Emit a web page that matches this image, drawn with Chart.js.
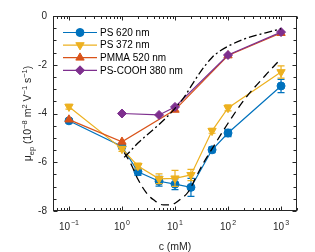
<!DOCTYPE html>
<html>
<head>
<meta charset="utf-8">
<script src="https://cdn.jsdelivr.net/npm/chart.js@4"></script>
<style>
  html, body { margin: 0; padding: 0; background: #fff; }
  #wrap { width: 315px; height: 252px; }
</style>
</head>
<body>
<div id="wrap"><canvas id="chart" width="315" height="252"></canvas></div>
<script>
// concentrations (mM) and mobilities (1e-8 m^2/Vs)
const concs = [0.1, 1, 2, 5, 10, 20, 50, 100, 1000];
const ps620 = [-4.3, -5.35, -6.39, -6.78, -6.9, -7.03, -5.49, -4.8, -2.87];
const ps620Err = [0.08, 0.1, 0.15, 0.2, 0.22, 0.37, 0.12, 0.15, 0.27];
const ps372 = [-3.72, -5.45, -6.15, -6.68, -6.66, -6.52, -4.71, -3.77, -2.3];
const ps372Err = [0.1, 0.1, 0.12, 0.2, 0.33, 0.23, 0.1, 0.12, 0.25];

const pmmaConcs = [0.1, 1, 10, 100, 1000];
const pmma520 = [-4.25, -5.16, -3.85, -1.62, -0.7];

const coohConcs = [1, 5, 10, 100, 1000];
const cooh380 = [-4.0, -4.06, -3.73, -1.6, -0.66];

// the two black model curves
const dashDotConcs = [1.1, 1.5, 2, 3, 5, 7, 10, 15, 20, 30, 50, 70, 100, 200, 400, 600, 1000];
const dashDotVals = [-5.8, -5.5, -5.21, -4.87, -4.45, -4.15, -3.79, -3.32, -2.89, -2.3, -1.7, -1.44, -1.24, -0.95, -0.75, -0.65, -0.52];
const dashConcs = [1.1, 1.5, 2, 3, 4, 6, 8, 10, 13, 18, 25, 35, 50, 100, 200, 500, 1000];
const dashVals = [-5.6, -6.1, -6.7, -7.3, -7.55, -7.75, -7.75, -7.68, -7.5, -7.2, -6.6, -6.0, -5.45, -4.4, -3.45, -2.45, -1.75];

const xTickPowers = [-1, 0, 1, 2, 3];
const seriesNames = ['PS 620 nm', 'PS 372 nm', 'PMMA 520 nm', 'PS-COOH 380 nm'];
const colors = ['#0072BD', '#EDB120', '#D95319', '#7E2F8E'];

const FONT = '"Liberation Sans", Arial, Helvetica, sans-serif';
const AXIS = '#262626';

function pts(xs, ys) {
    return xs.map((x, i) => ({ x: x, y: ys[i] }));
}

const markers = [
    { pointStyle: 'circle', radius: 4, rotation: 0 },
    { pointStyle: 'triangle', radius: 4.8, rotation: 180 },
    { pointStyle: 'triangle', radius: 4.8, rotation: 0 },
    { pointStyle: 'rectRot', radius: 4.5, rotation: 0 }
];

function series(i, data, errs) {
    return {
        label: seriesNames[i],
        data: data,
        errors: errs,
        showLine: true,
        borderColor: colors[i],
        backgroundColor: colors[i],
        borderWidth: 1.2,
        pointStyle: markers[i].pointStyle,
        pointRadius: markers[i].radius,
        pointRotation: markers[i].rotation,
        pointBorderWidth: 1,
        order: 4 - i
    };
}

// error bars drawn right after their own dataset
const errorBars = {
    id: 'errorBars',
    afterDatasetDraw(chart, args) {
        const ds = chart.data.datasets[args.index];
        if (!ds.errors) return;
        const y = chart.scales.y;
        const ctx = chart.ctx;
        ctx.save();
        ctx.strokeStyle = ds.borderColor;
        ctx.lineWidth = 1.2;
        args.meta.data.forEach((el, i) => {
            const v = ds.data[i].y, e = ds.errors[i];
            const top = y.getPixelForValue(v + e);
            const bot = y.getPixelForValue(v - e);
            ctx.beginPath();
            ctx.moveTo(el.x, top); ctx.lineTo(el.x, bot);
            ctx.moveTo(el.x - 3.5, top); ctx.lineTo(el.x + 3.5, top);
            ctx.moveTo(el.x - 3.5, bot); ctx.lineTo(el.x + 3.5, bot);
            ctx.stroke();
        });
        ctx.restore();
    }
};

// box, inward ticks, x labels, axis titles, legend
const frame = {
    id: 'frame',
    afterDraw(chart) {
        const ctx = chart.ctx;
        const a = chart.chartArea;
        const xs = chart.scales.x, ys = chart.scales.y;
        const L = Math.round(a.left) + 0.5, R = Math.round(a.right) - 0.5;
        const T = Math.round(a.top) + 0.5, B = Math.round(a.bottom) - 0.5;
        ctx.save();
        ctx.strokeStyle = AXIS;
        ctx.lineWidth = 1;
        ctx.strokeRect(L, T, R - L, B - T);

        ctx.beginPath();
        // y ticks every 0.5, both sides
        for (let v = -8; v <= 0; v += 0.5) {
            const p = Math.round(ys.getPixelForValue(v)) + 0.5;
            const len = Number.isInteger(v / 2) ? 4 : 3;
            ctx.moveTo(L, p); ctx.lineTo(L + len, p);
            ctx.moveTo(R, p); ctx.lineTo(R - len, p);
        }
        // x log ticks, top and bottom
        for (let k = -2; k <= 3; k++) {
            for (let m = 1; m <= 9; m++) {
                const c = m * Math.pow(10, k);
                if (c < xs.min || c > xs.max) continue;
                const p = Math.round(xs.getPixelForValue(c)) + 0.5;
                const len = m === 1 ? 4 : 2.5;
                ctx.moveTo(p, B); ctx.lineTo(p, B - len);
                ctx.moveTo(p, T); ctx.lineTo(p, T + len);
            }
        }
        ctx.stroke();

        // x tick labels 10^k
        ctx.fillStyle = AXIS;
        ctx.textBaseline = 'alphabetic';
        xTickPowers.forEach((k) => {
            const p = xs.getPixelForValue(Math.pow(10, k));
            const base = '10', sup = String(k).replace('-', '\u2212');
            ctx.font = '10px ' + FONT;
            const w1 = ctx.measureText(base).width;
            ctx.font = '7px ' + FONT;
            const w2 = ctx.measureText(sup).width;
            const x0 = p - (w1 + w2 + 1) / 2;
            ctx.font = '10px ' + FONT;
            ctx.textAlign = 'left';
            ctx.fillText(base, x0, 230);
            ctx.font = '7px ' + FONT;
            ctx.fillText(sup, x0 + w1 + 1, 225);
        });

        // x title
        ctx.font = '10.5px ' + FONT;
        ctx.textAlign = 'center';
        ctx.fillText('c (mM)', (a.left + a.right) / 2, 250);

        // y title with sub/superscripts
        const parts = [
            ['\u03bc', 10.5, 0], ['ep', 7.5, 3], [' (10', 10.5, 0], ['\u22128', 7.5, -4],
            [' m', 10.5, 0], ['2', 7.5, -4], [' V', 10.5, 0], ['\u22121', 7.5, -4],
            [' s', 10.5, 0], ['\u22121', 7.5, -4], [')', 10.5, 0]
        ];
        let total = 0;
        parts.forEach((pt) => { ctx.font = pt[1] + 'px ' + FONT; total += ctx.measureText(pt[0]).width; });
        ctx.translate(31, (a.top + a.bottom) / 2);
        ctx.rotate(-Math.PI / 2);
        ctx.textAlign = 'left';
        let cx = -total / 2;
        parts.forEach((pt) => {
            ctx.font = pt[1] + 'px ' + FONT;
            ctx.fillText(pt[0], cx, pt[2]);
            cx += ctx.measureText(pt[0]).width;
        });
        ctx.restore();

        // legend
        ctx.save();
        seriesNames.forEach((name, i) => {
            const yy = 32.5 + i * 12.6;
            ctx.strokeStyle = colors[i];
            ctx.fillStyle = colors[i];
            ctx.lineWidth = 1.2;
            ctx.beginPath();
            ctx.moveTo(63, yy); ctx.lineTo(97, yy);
            ctx.stroke();
            ctx.lineWidth = 1;
            Chart.helpers.drawPoint(ctx, {
                pointStyle: markers[i].pointStyle,
                radius: markers[i].radius,
                rotation: markers[i].rotation,
                borderWidth: 1
            }, 80, yy);
            ctx.fillStyle = '#000';
            ctx.font = '10px ' + FONT;
            ctx.textAlign = 'left';
            ctx.textBaseline = 'middle';
            ctx.fillText(name, 100, yy + 0.5);
        });
        ctx.restore();
    }
};

new Chart(document.getElementById('chart'), {
    type: 'scatter',
    data: {
        datasets: [
            series(0, pts(concs, ps620), ps620Err),
            series(1, pts(concs, ps372), ps372Err),
            series(2, pts(pmmaConcs, pmma520), null),
            series(3, pts(coohConcs, cooh380), null),
            {
                label: 'model dash-dot',
                data: pts(dashDotConcs, dashDotVals),
                showLine: true,
                borderColor: '#000',
                borderWidth: 1.3,
                borderDash: [8, 3, 2, 3],
                pointRadius: 0,
                cubicInterpolationMode: 'monotone',
                order: 0
            },
            {
                label: 'model dashed',
                data: pts(dashConcs, dashVals),
                showLine: true,
                borderColor: '#000',
                borderWidth: 1.3,
                borderDash: [8, 5],
                pointRadius: 0,
                cubicInterpolationMode: 'monotone',
                order: 0
            }
        ]
    },
    options: {
        responsive: false,
        animation: false,
        events: [],
        layout: { padding: { top: 16, right: 18, left: 0, bottom: 0 } },
        plugins: { legend: { display: false }, tooltip: { enabled: false } },
        scales: {
            x: {
                type: 'logarithmic',
                min: 0.05,
                max: 2000,
                grid: { display: false },
                border: { display: false },
                ticks: { display: false },
                afterFit(s) { s.height = 41; }
            },
            y: {
                min: -8,
                max: 0,
                grid: { display: false, drawTicks: false },
                border: { display: false },
                ticks: {
                    stepSize: 2,
                    padding: 6,
                    color: AXIS,
                    font: { family: FONT, size: 10 }
                },
                afterFit(s) { s.width = 53; }
            }
        }
    },
    plugins: [errorBars, frame]
});
</script>
</body>
</html>
